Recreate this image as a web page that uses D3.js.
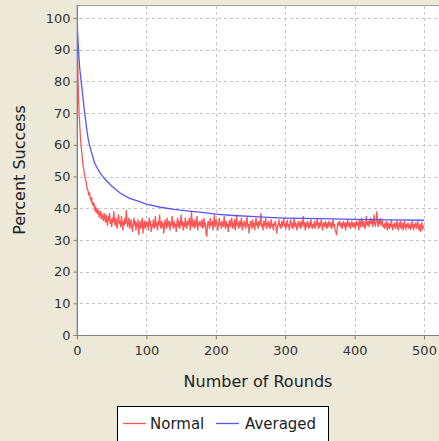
<!DOCTYPE html>
<html>
<head>
<meta charset="utf-8">
<script src="https://cdn.jsdelivr.net/npm/d3@7"></script>
<style>
  body { margin: 0; background: #ece9d8; }
  svg { display: block; font-family: "DejaVu Sans", sans-serif; }
</style>
</head>
<body>
<svg id="chart"></svg>
<script>
// "Normal" series, one value per round (0..500)
const normal = [
  100, 86, 76, 70, 66, 62, 59.5, 57.5, 55, 53, 52, 50.5, 49, 48.5, 47, 46, 45.5, 44, 45, 43,
  42.5, 43.5, 41, 42, 40.5, 41.5, 39, 40.5, 38.5, 40, 38, 39.5, 37, 38.5, 39, 36.5, 38, 37.5, 36, 38.5,
  37, 35.5, 38, 36, 34.5, 37.5, 36, 38.5, 35, 36.5, 34, 37, 35.5, 39, 36, 34.5, 37, 35, 33.5, 36.5,
  38, 35, 36, 34, 37.5, 35.5, 33, 36, 34.5, 37, 35, 39.5, 36, 34, 35.5, 37, 33.5, 35, 36.5, 34,
  32.5, 35, 37, 34.5, 36, 33, 35.5, 34, 36.5, 31.5, 34, 36, 33.5, 35, 37, 32, 34.5, 36, 33.5, 35,
  36, 34, 35.5, 33, 37, 34.5, 36, 32.5, 35, 34, 36.5, 33.5, 35, 37.5, 34, 35.5, 33, 36, 34.5, 38,
  35, 33.5, 36, 34, 35.5, 32, 34.5, 36.5, 35, 33.5, 37, 34, 35.5, 36, 33, 35, 34.5, 37.5, 35, 33.5,
  36, 34.5, 35, 32.5, 35.5, 37, 34, 36, 33.5, 35, 38, 34.5, 36, 33, 35.5, 34, 37, 35, 33.5, 36,
  34.5, 35.5, 37, 33, 35, 39, 34, 36, 35.5, 33.5, 36.5, 34, 35, 37.5, 33, 35.5, 34.5, 36, 35, 34,
  36.5, 33.5, 35, 37, 34, 35.5, 32, 31, 34.5, 36, 35, 33.5, 37, 34.5, 35, 36, 33, 35.5, 38, 34,
  35.5, 36.5, 34, 33, 35, 37, 34.5, 35.5, 33.5, 36, 35, 34, 37.5, 35, 33.5, 36, 34.5, 35, 32.5, 35.5,
  36, 34, 35.5, 37, 33.5, 35, 34.5, 36.5, 33, 35, 38, 34.5, 35, 33.5, 36, 34, 35.5, 37, 33, 35,
  34.5, 36, 35, 33.5, 35.5, 37.5, 34, 35, 32, 34.5, 36, 35, 33.5, 36.5, 34, 35.5, 33, 35, 37, 34.5,
  35, 33.5, 36, 34.5, 35.5, 38.5, 34, 35, 33, 36, 34.5, 35, 37, 33.5, 35.5, 34, 36, 35, 33.5, 35,
  36.5, 34, 35, 33, 35.5, 34.5, 36, 33.5, 32, 34.5, 35, 36.5, 34, 35, 33.5, 36, 34.5, 35, 37, 34,
  35, 33.5, 35.5, 36, 34, 35, 33, 35.5, 36.5, 34.5, 35, 33.5, 35, 37, 34, 35.5, 34.5, 33, 35, 36,
  34.5, 35, 33.5, 36, 34.5, 35, 37.5, 34, 35.5, 33, 35, 34.5, 36, 35, 33.5, 35.5, 34, 36.5, 35, 33.5,
  35, 34, 36, 33.5, 35, 34.5, 37, 35, 33.5, 35.5, 34, 35, 36.5, 34, 33, 35.5, 35, 34, 36, 35,
  33.5, 35, 34.5, 36, 35, 34, 35.5, 33.5, 35, 36.5, 34, 35, 33, 32.5, 31.5, 34, 35.5, 34.5, 36, 35,
  34, 35.5, 33.5, 35, 36, 34.5, 35, 33, 35.5, 34, 36.5, 35, 34, 35.5, 33.5, 35, 36, 34.5, 35, 34,
  35.5, 33.5, 35, 36, 34.5, 35.5, 33, 36.5, 35, 34, 37, 35.5, 34, 36, 35, 33.5, 35.5, 37.5, 34.5, 35,
  36, 34, 35.5, 37, 35, 36.5, 34, 35.5, 38, 35, 34.5, 36, 39, 35.5, 34, 36.5, 35, 37, 34.5, 35.5,
  36, 34, 35, 33.5, 35.5, 34, 36, 33, 34.5, 35.5, 33.5, 35, 34, 36.5, 34.5, 33, 35, 34, 35.5, 33.5,
  34.5, 36, 34, 33, 35, 34.5, 36, 33.5, 34, 35.5, 33, 34.5, 36, 34, 33.5, 35, 34, 35.5, 33.5, 34.5,
  35, 33.5, 34, 36, 34.5, 33, 35, 34, 35.5, 33.5, 34.5, 36, 34, 33, 35, 32.5, 34.5, 35.5, 33.5, 34,
  34.5
];

// "Averaged" series, smooth, read at these rounds
const avgRounds = [0, 1, 2, 3, 4, 5, 6, 8, 10, 12, 14, 16, 18, 20, 25, 30, 35, 40, 50, 62, 75, 88, 100,
  120, 140, 165, 180, 200, 225, 250, 275, 300, 350, 400, 450, 500];
const avgValues = [100, 95, 91, 87, 84, 82, 80, 76, 72, 68.5, 65, 62, 60, 58.3, 54.5, 52.3, 50.6, 49.2, 47, 44.8,
  43.2, 42.2, 41.3, 40.3, 39.6, 39, 38.7, 38.1, 37.7, 37.4, 37.1, 36.9, 36.7, 36.5, 36.3, 36.2];

const xTicks = [0, 100, 200, 300, 400, 500];
const yTicks = [0, 10, 20, 30, 40, 50, 60, 70, 80, 90, 100];
const seriesNames = ["Normal", "Averaged"];
const seriesColors = ["#ff5555", "#5555ff"];

function main() {
  const width = 439, height = 441;
  const plot = {left: 77, top: 5, right: 439, bottom: 335};

  const svg = d3.select("#chart").attr("width", width).attr("height", height);

  const x = d3.scaleLinear().domain([0, 500]).range([77, 424]);
  const y = d3.scaleLinear().domain([0, 100]).range([335, 18]);

  svg.append("rect")
    .attr("x", plot.left).attr("y", plot.top + 0.5)
    .attr("width", plot.right - plot.left + 5).attr("height", plot.bottom - plot.top)
    .attr("fill", "#fff").attr("stroke", "#a0a0a0");

  svg.append("clipPath").attr("id", "clip")
    .append("rect")
      .attr("x", plot.left).attr("y", plot.top)
      .attr("width", plot.right - plot.left).attr("height", plot.bottom - plot.top);

  // grid
  const grid = svg.append("g")
    .attr("stroke", "#c4c4c4").attr("stroke-dasharray", "3,3").attr("shape-rendering", "crispEdges");
  grid.selectAll("line.v").data(xTicks).enter().append("line")
    .attr("x1", d => Math.round(x(d)) + 0.5).attr("x2", d => Math.round(x(d)) + 0.5)
    .attr("y1", plot.top + 1).attr("y2", plot.bottom);
  grid.selectAll("line.h").data(yTicks).enter().append("line")
    .attr("y1", d => Math.round(y(d)) + 0.5).attr("y2", d => Math.round(y(d)) + 0.5)
    .attr("x1", plot.left + 3).attr("x2", plot.right);

  // series
  const g = svg.append("g").attr("clip-path", "url(#clip)");
  const line = d3.line().x(d => x(d[0])).y(d => y(d[1]));

  g.append("path")
    .datum(normal.map((v, i) => [i, v]))
    .attr("d", line)
    .attr("fill", "none").attr("stroke", seriesColors[0]).attr("stroke-width", 1.3);

  g.append("path")
    .datum(avgRounds.map((r, i) => [r, avgValues[i]]))
    .attr("d", line)
    .attr("fill", "none").attr("stroke", seriesColors[1]).attr("stroke-width", 1.3);

  // axes
  const xAxis = svg.append("g")
    .attr("transform", `translate(0,${plot.bottom + 0.5})`)
    .call(d3.axisBottom(x).tickValues(xTicks).tickSizeOuter(0).tickSizeInner(4).tickPadding(6));
  xAxis.select(".domain").attr("d", `M${plot.left},0H${plot.right}`);

  const yAxis = svg.append("g")
    .attr("transform", `translate(${plot.left + 0.5},0)`)
    .call(d3.axisLeft(y).tickValues(yTicks).tickSizeOuter(0).tickSizeInner(4).tickPadding(3));
  yAxis.select(".domain").attr("d", `M0,${plot.top}V${plot.bottom}`);

  svg.selectAll(".tick line, .domain").attr("stroke", "#808080");
  svg.selectAll(".tick text")
    .attr("fill", "#333").attr("font-size", 13).attr("font-family", "DejaVu Sans, sans-serif");

  svg.append("text")
    .attr("x", (plot.left + plot.right) / 2).attr("y", 387)
    .attr("text-anchor", "middle").attr("font-size", 16).attr("fill", "#222")
    .text("Number of Rounds");

  svg.append("text")
    .attr("transform", `translate(25,${(plot.top + plot.bottom) / 2}) rotate(-90)`)
    .attr("text-anchor", "middle").attr("font-size", 16).attr("fill", "#222")
    .text("Percent Success");

  // legend
  const legend = svg.append("g");
  legend.append("rect")
    .attr("x", 117.5).attr("y", 406.5).attr("width", 211).attr("height", 40)
    .attr("fill", "#fff").attr("stroke", "#000");
  const items = [{sx: 123, tx: 150}, {sx: 216, tx: 245}];
  items.forEach((it, i) => {
    legend.append("line")
      .attr("x1", it.sx).attr("x2", it.sx + 23).attr("y1", 423.5).attr("y2", 423.5)
      .attr("stroke", seriesColors[i]).attr("stroke-width", 1.3);
    legend.append("text")
      .attr("x", it.tx).attr("y", 429).attr("font-size", 15).attr("fill", "#222")
      .text(seriesNames[i]);
  });
}

window.addEventListener("load", main);
</script>
</body>
</html>
